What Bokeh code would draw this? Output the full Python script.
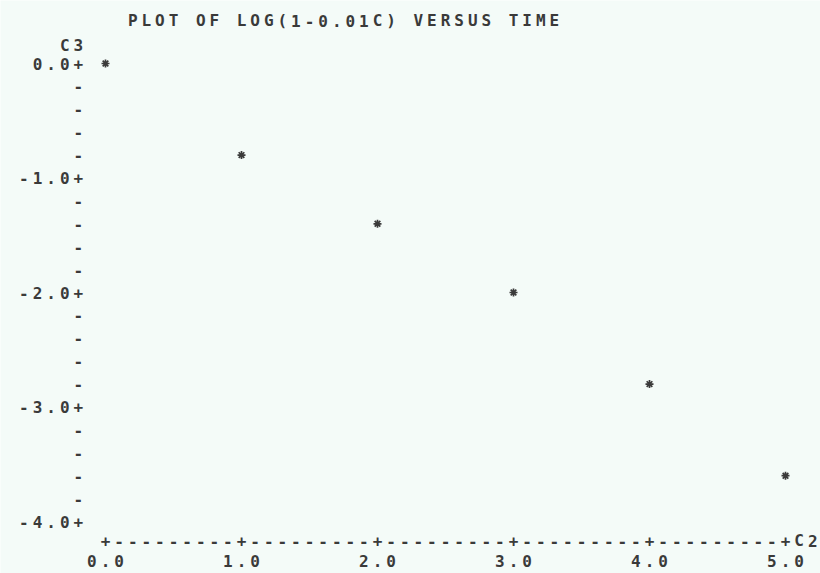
from bokeh.plotting import figure
from bokeh.models import Range1d, ColumnDataSource
from bokeh.core.properties import value
from bokeh.embed import file_html
from bokeh.resources import INLINE

# Data: C2 = time, C3 = log(1 - 0.01C)
time = [0.0, 1.0, 2.0, 3.0, 4.0, 5.0]
log_c = [0.0, -0.8, -1.4, -2.0, -2.8, -3.6]

title = "PLOT OF LOG(1-0.01C) VERSUS TIME"
x_name = "C2"
y_name = "C3"
x_ticks = [0.0, 1.0, 2.0, 3.0, 4.0, 5.0]
x_tick_labels = ["0.0", "1.0", "2.0", "3.0", "4.0", "5.0"]
y_ticks = [0.0, -1.0, -2.0, -3.0, -4.0]
y_tick_labels = ["0.0", "-1.0", "-2.0", "-3.0", "-4.0"]

# line-printer character grid (one column = 0.1 in x, one row = 0.2 in y)
COL = 0.1
ROW = 0.2
INK = "#3a3a3a"
PAPER = "#f4fbf8"
FONT = "DejaVu Sans Mono"

W, H = 820, 573
X0_PX, X_SCALE = 105, 136.0
Y0_PX, Y_SCALE = 63, 114.5

p = figure(width=W, height=H, output_backend="svg", toolbar_location=None,
           x_range=Range1d(-X0_PX / X_SCALE, (W - X0_PX) / X_SCALE),
           y_range=Range1d(-(H - Y0_PX) / Y_SCALE, Y0_PX / Y_SCALE),
           min_border=0)
p.axis.visible = False
p.grid.visible = False
p.outline_line_color = None
p.background_fill_color = PAPER
p.border_fill_color = PAPER

xs, ys, chars = [], [], []


def put(text, x_start, y):
    for i, ch in enumerate(text):
        if ch != " ":
            xs.append(x_start + i * COL)
            ys.append(y)
            chars.append(ch)


# y axis column sits two columns left of x = 0
axis_col = min(x_ticks) - 2 * COL
y_top, y_bot = max(y_ticks), min(y_ticks)
for k in range(int(round((y_top - y_bot) / ROW)) + 1):
    yv = y_top - k * ROW
    is_major = any(abs(yv - t) < 1e-6 for t in y_ticks)
    put("+" if is_major else "-", axis_col, yv)
for t, lab in zip(y_ticks, y_tick_labels):
    put(lab, axis_col - len(lab) * COL, t)
put(y_name, axis_col - COL, y_top + 0.16)

# x axis row below the lowest y tick
axis_row = y_bot - 0.17
label_row = y_bot - 0.345
x_lo, x_hi = min(x_ticks), max(x_ticks)
for k in range(int(round((x_hi - x_lo) / COL)) + 1):
    xv = x_lo + k * COL
    is_major = any(abs(xv - t) < 1e-6 for t in x_ticks)
    put("+" if is_major else "-", xv, axis_row)
put(x_name, x_hi + COL, axis_row)
for t, lab in zip(x_ticks, x_tick_labels):
    put(lab, t - (len(lab) - 1) / 2 * COL, label_row)

# title line
put(title, 0.2, y_top + 0.375)

src = ColumnDataSource(dict(x=xs, y=ys, t=chars))
p.text(x="x", y="y", text="t", source=src, text_font=value(FONT),
       text_font_size="16px", text_font_style="bold", text_color=INK,
       text_align="center", text_baseline="middle")

# plotted points
p.scatter(time, log_c, marker="asterisk", size=8, line_width=1.7,
          line_color=INK)

open("out.html", "w").write(file_html(p, INLINE))
